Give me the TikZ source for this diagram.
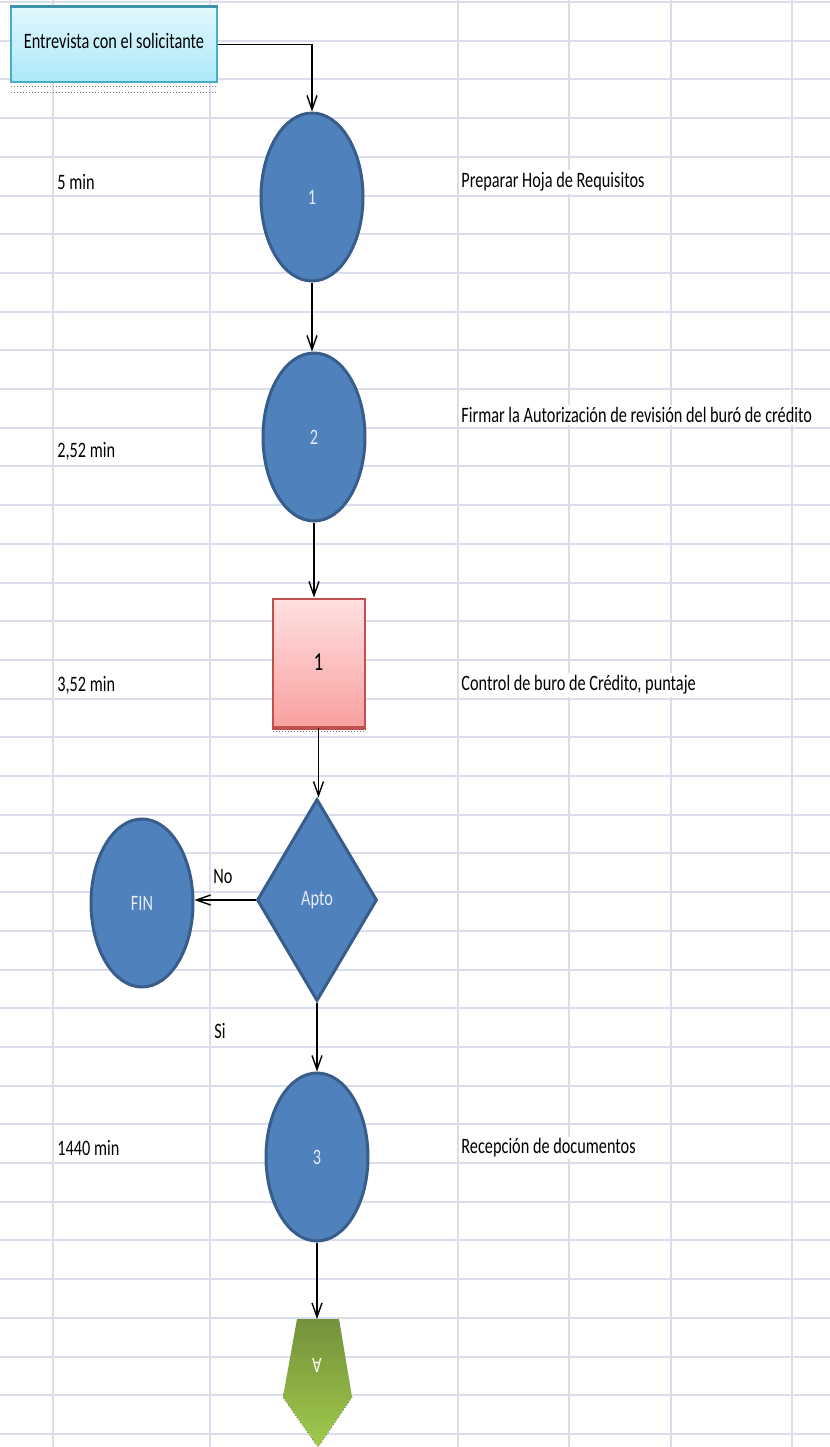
\documentclass[tikz,border=0pt]{standalone}
\usepackage{fontspec}
\setmainfont[FakeStretch=0.74]{Carlito}
\usetikzlibrary{shapes.geometric,arrows.meta}
\definecolor{gridline}{RGB}{218,222,236}
\definecolor{shapeblue}{RGB}{79,129,189}
\definecolor{shapeedge}{RGB}{56,93,138}
\definecolor{shapetext}{RGB}{228,236,246}
\definecolor{cyantop}{RGB}{224,248,253}
\definecolor{cyanbot}{RGB}{172,232,250}
\definecolor{cyanedge}{RGB}{75,172,198}
\definecolor{pinktop}{RGB}{255,224,224}
\definecolor{pinkbot}{RGB}{249,160,160}
\definecolor{pinkedge}{RGB}{192,80,77}
\definecolor{greentop}{RGB}{116,145,58}
\definecolor{greenbot}{RGB}{160,202,76}
\tikzset{
  every node/.style={font=\fontsize{11}{13}\selectfont},
  flow/.style={draw=black,line width=0.7pt,-{Straight Barb[length=7pt,width=5pt]}},
  oper/.style={ellipse,draw=shapeedge,fill=shapeblue,line width=1.5pt,
    minimum width=51pt,minimum height=84pt,text=shapetext,inner sep=0pt},
  decide/.style={diamond,draw=shapeedge,fill=shapeblue,line width=1.5pt,
    minimum width=60pt,minimum height=101pt,text=shapetext,inner sep=0pt},
  inspect/.style={rectangle,draw=pinkedge,line width=1pt,top color=pinktop,
    bottom color=pinkbot,minimum width=46pt,minimum height=64pt},
  startbox/.style={rectangle,draw=cyanedge,line width=0.8pt,top color=cyantop,
    bottom color=cyanbot,minimum width=103pt,minimum height=37.5pt},
  sidetext/.style={anchor=west,fill=white,inner sep=1pt,text=black},
  handles/.style={black!55,line width=0.5pt,densely dotted}
}
% spreadsheet cells behind the chart
\newcommand{\GRIDcells}{
\begin{scope}
\foreach \x in {53,210,458,569,671,792} \draw[gridline,line width=1pt] (\x,0) -- (\x,1447);
\foreach \k in {0,...,37} \draw[gridline,line width=1pt] (0,2+38.7*\k) -- (830,2+38.7*\k);
\end{scope}
}
\begin{document}
\begin{tikzpicture}[x=0.5pt,y=-0.5pt]
  \useasboundingbox[fill=white] (0,0) rectangle (830,1447);
  \GRIDcells

  % times and activities
  \node[sidetext] (t1) at (55,182) {5 min};
  \node[sidetext] (d1) at (459,182) {Preparar Hoja de Requisitos};
  \node[sidetext] (t2) at (55,451) {2,52 min};
  \node[sidetext] (d2) at (459,415) {Firmar la Autorización de revisión del buró de crédito};
  \node[sidetext] (t3) at (55,685) {3,52 min};
  \node[sidetext] (d3) at (459,685) {Control de buro de Crédito, puntaje};
  \node[sidetext] (t4) at (55,1148) {1440 min};
  \node[sidetext] (d4) at (459,1148) {Recepción de documentos};

  % chart
  \node[startbox] (entrev) at (114,44.5) {\raisebox{4pt}{Entrevista con el solicitante}};
  \draw[cyanedge!85!black,line width=1.6pt] (entrev.north west) -- (entrev.north east);
  \draw[handles] (11,86) -- (218,86);
  \draw[handles] (11,92) -- (218,92);
  \node[oper] (op1) at (312,197) {1};
  \node[oper] (op2) at (314,437) {2};
  \node[inspect] (ctrl) at (318.5,662.5) {\fontsize{13}{15}\selectfont 1};
  \draw[pinkedge,line width=2pt] (ctrl.south west) -- (ctrl.south east);
  \draw[handles] (273,731) -- (364,731);
  \node[decide] (apto) at (317,900) {Apto};
  \node[oper] (fin) at (142,903) {FIN};
  \node[oper] (op3) at (317,1157) {3};
  \draw[handles,black!70] (352,1397) -- (318,1447) -- (283,1397);
  \shade[top color=greentop,bottom color=greenbot]
    (297,1319) -- (339,1319) -- (352,1397) -- (318,1447) -- (283,1397) -- cycle;
  \coordinate (offA) at (317,1319);
  \node[rotate=180,text=white] (letA) at (317,1366) {A};

  \draw[flow] (entrev.east) -| (op1.north);
  \draw[flow] (op1.south) -- (op1.south |- op2.north);
  \draw[flow] (op2.south) -- (op2.south |- ctrl.north);
  \draw[flow] (ctrl.south) -- (ctrl.south |- apto.north);
  \draw[flow] (apto.west) -- (apto.west -| fin.east);
  \node (lblNo) at (223,877) {No};
  \draw[flow] (apto.south) -- (op3.north);
  \node (lblSi) at (220,1031) {Si};
  \draw[flow] (op3.south) -- (offA);
\end{tikzpicture}
\end{document}
